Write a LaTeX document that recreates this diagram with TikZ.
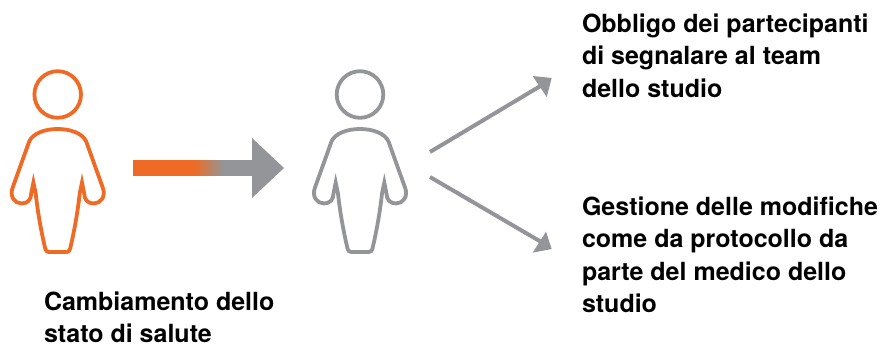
\documentclass[tikz,border=0pt]{standalone}
\usepackage{fontspec}
\setmainfont{TeX Gyre Heros}
\definecolor{orng}{HTML}{EF6B25}
\definecolor{gry}{HTML}{939598}
\tikzset{
  x=1pt,y=-1pt,
  personline/.style={line width=3.8pt,line join=miter,miter limit=20,fill=none},
  lbl/.style={anchor=north west,inner sep=0pt,outer sep=0pt,align=left,font=\fontsize{25}{32.3}\selectfont\bfseries},
  thinarrow/.style={draw=gry,line width=4pt},
  tiphead/.style={fill=gry,draw=none},
  pics/person/.style={code={
    \draw[personline,draw=#1] (0,-74) circle[radius=23.3];
    \draw[personline,draw=#1]
      (0,-39.5) .. controls (-13,-39.5) and (-25,-35) .. (-28.5,-27)
      -- (-45,19)
      .. controls (-48.5,28) and (-43,35) .. (-36,35)
      .. controls (-30,35) and (-26.5,31) .. (-26.5,25)
      -- (-24.3,14)
      -- (-22,25)
      .. controls (-19.5,48) and (-15.5,67) .. (-12.5,80)
      .. controls (-12,82) and (-11,83.5) .. (-9,83.5)
      -- (9,83.5)
      .. controls (11,83.5) and (12,82) .. (12.5,80)
      .. controls (15.5,67) and (19.5,48) .. (22,25)
      -- (24.3,14)
      -- (26.5,25)
      .. controls (26.5,31) and (30,35) .. (36,35)
      .. controls (43,35) and (48.5,28) .. (45,19)
      -- (28.5,-27)
      .. controls (25,-35) and (13,-39.5) .. (0,-39.5) -- cycle;
  }}
}
\begin{document}
\begin{tikzpicture}
\useasboundingbox (0,0) rectangle (881,344);
\pic (p1) at (57.7,168.5) {person=orng};
\pic (p2) at (360,168.5) {person=gry};
% fat arrow
\fill[orng] (133,160) rectangle (194.5,176);
\foreach \i in {0,...,29}{
  \pgfmathtruncatemacro{\mixval}{(\i+0.5)*100/30}
  \fill[gry!\mixval!orng] (194+\i,160) rectangle (195.3+\i,176);
}
\fill[gry] (224,160) rectangle (252.5,176);
\fill[gry] (252,138) -- (284,168) -- (252,198) -- cycle;
% thin arrows
\coordinate (s1) at (430,152);
\coordinate (e1) at (543,84.5);
\coordinate (s2) at (430,177);
\coordinate (e2) at (543,243);
\draw[thinarrow] (s1) -- (e1);
\draw[thinarrow] (s2) -- (e2);
\fill[tiphead] (551.7,78) -- (532.7,76) -- (546.7,97) -- cycle;
\fill[tiphead] (551.7,249) -- (532.7,252.7) -- (546,231.7) -- cycle;
% labels
\node[lbl] (t1) at (582,14) {Obbligo dei partecipanti\\di segnalare al team\\dello studio};
\node[lbl] (t2) at (582,197) {Gestione delle modifiche\\come da protocollo da\\parte del medico dello\\studio};
\node[lbl] (t3) at (44,292) {Cambiamento dello\\stato di salute};
\end{tikzpicture}
\end{document}
